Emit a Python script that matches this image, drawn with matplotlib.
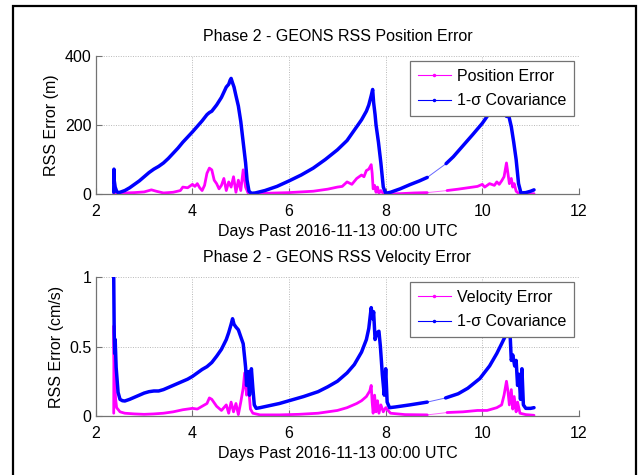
import numpy as np
import matplotlib
matplotlib.use('Agg')
import matplotlib.pyplot as plt
from matplotlib.lines import Line2D
from matplotlib.patches import Rectangle

plt.rcParams['font.family'] = ['Liberation Sans', 'DejaVu Sans']

# span with no tracking data (only a thin joining line is drawn across it)
data_gap = (8.9, 9.2)

# position error, top panel (days, metres)
pos_err_days = [2.37, 2.45, 2.6, 2.8, 3.0, 3.15, 3.25, 3.4, 3.6, 3.75, 3.8, 3.9, 4.0, 4.05, 4.1,
                4.15, 4.2, 4.25, 4.3, 4.35, 4.4, 4.45, 4.5, 4.55, 4.6, 4.65, 4.7, 4.75, 4.8, 4.85,
                4.9, 4.95, 5.0, 5.05, 5.1, 5.15, 5.25, 5.5, 6.0, 6.5, 6.8, 7.0, 7.1, 7.2, 7.3,
                7.4, 7.5, 7.55, 7.6, 7.65, 7.7, 7.72, 7.74, 7.77, 7.8, 7.83, 7.86, 7.9, 7.95, 8.05,
                8.3, 8.6, 8.86, 9.27, 9.5, 9.7, 9.9, 10.0, 10.05, 10.15, 10.25, 10.3, 10.35, 10.4,
                10.45, 10.5, 10.53, 10.56, 10.6, 10.63, 10.66, 10.7, 10.75, 10.8, 11.0, 11.07]
pos_err = [2, 1, 3, 4, 6, 12, 8, 3, 5, 10, 20, 18, 28, 22, 30,
           18, 10, 25, 60, 75, 70, 40, 30, 15, 25, 45, 10, 35, 20, 50,
           5, 40, 10, 70, 20, 3, 1, 2, 4, 8, 14, 20, 22, 35, 28,
           45, 55, 50, 68, 72, 85, 60, 15, 25, 5, 20, 2, 10, 1, 0,
           1, 3, 4, 10, 14, 18, 22, 28, 20, 30, 25, 35, 28, 38,
           50, 90, 60, 30, 45, 20, 30, 8, 2, 0, 0, 1]

# position 1-sigma covariance
pos_cov_days = [2.37, 2.375, 2.38, 2.40, 2.43, 2.46, 2.50, 2.6, 2.7, 2.8, 2.9, 3.0, 3.1, 3.2,
                3.3, 3.4, 3.5, 3.6, 3.7, 3.8, 3.9, 4.0, 4.1, 4.2, 4.3, 4.35, 4.4, 4.5, 4.6,
                4.65, 4.7, 4.75, 4.78, 4.8, 4.83, 4.86, 4.9, 4.95, 5.0, 5.05, 5.1, 5.13, 5.17,
                5.22, 5.3, 5.5, 5.75, 6.0, 6.25, 6.5, 6.75, 7.0, 7.2, 7.4, 7.5, 7.6, 7.65, 7.7,
                7.73, 7.75, 7.78, 7.8, 7.85, 7.9, 7.95, 8.0, 8.1, 8.3, 8.5, 8.7, 8.86, 9.25,
                9.4, 9.6, 9.8, 10.0, 10.1, 10.2, 10.3, 10.35, 10.4, 10.45, 10.5, 10.55, 10.6,
                10.65, 10.7, 10.75, 10.8, 10.9, 11.0, 11.07]
pos_cov = [5, 72, 40, 20, 8, 4, 5, 10, 18, 28, 38, 50, 62, 72,
           80, 90, 103, 118, 133, 150, 165, 180, 196, 212, 230, 236, 240, 258, 280,
           295, 310, 318, 330, 335, 322, 310, 285, 255, 210, 150, 90, 40, 8,
           2, 3, 10, 22, 38, 55, 75, 100, 128, 155, 195, 215, 240, 258, 285,
           303, 265, 230, 200, 150, 90, 20, 2, 5, 15, 27, 38, 48, 88,
           108, 140, 172, 205, 225, 245, 265, 275, 265, 240, 225, 225, 195,
           150, 100, 30, 3, 4, 8, 12]

# velocity error, bottom panel (days, cm/s)
vel_err_days = [2.37, 2.375, 2.38, 2.39, 2.41, 2.43, 2.5, 2.6, 2.8, 3.0, 3.2, 3.4, 3.6, 3.8,
                4.0, 4.1, 4.2, 4.3, 4.35, 4.4, 4.5, 4.6, 4.7, 4.75, 4.8, 4.85, 4.9, 4.95, 5.0,
                5.05, 5.08, 5.12, 5.15, 5.2, 5.25, 5.4, 5.8, 6.2, 6.6, 7.0, 7.2, 7.4, 7.5, 7.6,
                7.67, 7.7, 7.72, 7.74, 7.77, 7.8, 7.83, 7.86, 7.9, 7.95, 8.0, 8.1, 8.4, 8.86,
                9.27, 9.6, 9.9, 10.1, 10.3, 10.4, 10.45, 10.5, 10.53, 10.56, 10.6, 10.63, 10.66,
                10.7, 10.73, 10.78, 10.9, 11.07]
vel_err = [0.02, 0.65, 0.45, 0.25, 0.12, 0.06, 0.03, 0.02, 0.015, 0.012, 0.015, 0.02, 0.03, 0.045,
           0.055, 0.05, 0.07, 0.09, 0.13, 0.12, 0.07, 0.04, 0.08, 0.02, 0.1, 0.03, 0.09, 0.01, 0.1,
           0.2, 0.31, 0.15, 0.25, 0.05, 0.02, 0.008, 0.008, 0.012, 0.02, 0.04, 0.06, 0.09, 0.11, 0.14,
           0.18, 0.22, 0.1, 0.02, 0.15, 0.03, 0.11, 0.02, 0.08, 0.03, 0.06, 0.02, 0.01, 0.008,
           0.025, 0.03, 0.04, 0.04, 0.06, 0.08, 0.15, 0.25, 0.18, 0.08, 0.19, 0.05, 0.14,
           0.03, 0.1, 0.02, 0.01, 0.005]

# velocity 1-sigma covariance
vel_cov_days = [2.37, 2.375, 2.38, 2.39, 2.40, 2.42, 2.46, 2.50, 2.55, 2.6, 2.7, 2.8, 2.9, 3.0,
                3.1, 3.2, 3.3, 3.4, 3.5, 3.6, 3.7, 3.8, 3.9, 4.0, 4.1, 4.2, 4.3, 4.4, 4.5, 4.6,
                4.7, 4.75, 4.8, 4.83, 4.86, 4.9, 4.95, 5.0, 5.05, 5.08, 5.1, 5.12, 5.15, 5.18,
                5.22, 5.25, 5.28, 5.32, 5.4, 5.6, 5.8, 6.0, 6.3, 6.6, 6.8, 7.0, 7.2, 7.35, 7.5,
                7.6, 7.65, 7.7, 7.73, 7.75, 7.78, 7.82, 7.86, 7.89, 7.93, 7.97, 8.0, 8.03, 8.08,
                8.2, 8.5, 8.86, 9.24, 9.5, 9.7, 9.95, 10.15, 10.3, 10.4, 10.47, 10.52, 10.55,
                10.58, 10.6, 10.63, 10.67, 10.7, 10.73, 10.76, 10.79, 10.82, 10.85, 10.9, 11.0, 11.07]
vel_cov = [1.0, 0.8, 0.6, 0.45, 0.55, 0.35, 0.17, 0.12, 0.11, 0.108, 0.12, 0.135, 0.15, 0.165,
           0.175, 0.18, 0.18, 0.19, 0.205, 0.22, 0.235, 0.25, 0.265, 0.285, 0.31, 0.335, 0.355, 0.385, 0.43, 0.48,
           0.55, 0.6, 0.66, 0.7, 0.66, 0.64, 0.62, 0.57, 0.52, 0.42, 0.35, 0.22, 0.32, 0.15,
           0.34, 0.2, 0.08, 0.055, 0.06, 0.075, 0.09, 0.11, 0.14, 0.175, 0.21, 0.25, 0.31, 0.37, 0.46,
           0.55, 0.63, 0.78, 0.7, 0.75, 0.55, 0.6, 0.61, 0.5, 0.3, 0.15, 0.34, 0.1, 0.06,
           0.065, 0.08, 0.1, 0.13, 0.16, 0.2, 0.27, 0.36, 0.45, 0.52, 0.57, 0.63, 0.7,
           0.55, 0.4, 0.44, 0.36, 0.4, 0.22, 0.3, 0.12, 0.34, 0.08, 0.055, 0.055, 0.06]

PINK = '#ff00ff'
BLUE = '#0000ff'


def draw_series(ax, days, vals, color, lw):
    days = np.asarray(days, float)
    vals = np.asarray(vals, float)
    # thin line everywhere (shows through the data gap), thick where data is dense
    ax.plot(days, vals, color=color, lw=0.7, alpha=0.6)
    across = np.where((days[:-1] <= data_gap[0]) & (days[1:] >= data_gap[1]))[0]
    thick_x = np.insert(days, across + 1, np.nan)
    thick_y = np.insert(vals, across + 1, np.nan)
    ax.plot(thick_x, thick_y, color=color, lw=lw, solid_joinstyle='round',
            solid_capstyle='round')


def style_axes(ax, title, ylabel, ylim, yticks):
    ax.set_xlim(2, 12)
    ax.set_ylim(*ylim)
    ax.set_xticks([2, 4, 6, 8, 10, 12])
    ax.set_yticks(yticks)
    ax.set_title(title, fontsize=11.5, pad=11)
    ax.set_xlabel('Days Past 2016-11-13 00:00 UTC', fontsize=11.5, labelpad=4)
    ax.set_ylabel(ylabel, fontsize=11.5, labelpad=4)
    ax.grid(True, color='0.72', linestyle=(0, (1, 1.5)), linewidth=0.7)
    for side in ['top', 'right']:
        ax.spines[side].set_visible(False)
    for side in ['left', 'bottom']:
        ax.spines[side].set_color('0.45')
        ax.spines[side].set_linewidth(0.9)
    ax.tick_params(direction='in', length=4, color='0.45', labelsize=11.5)
    ax.tick_params(axis='x', pad=7)
    ax.tick_params(axis='y', pad=3)


def add_legend(ax, labels):
    handles = [Line2D([], [], color=PINK, lw=0.8, marker='.', markersize=3),
               Line2D([], [], color=BLUE, lw=0.8, marker='.', markersize=3)]
    leg = ax.legend(handles, labels, loc='upper right', fontsize=11.5, fancybox=False,
                    framealpha=1, edgecolor='0.45', handlelength=2.1, handletextpad=0.35,
                    borderaxespad=0.3, borderpad=0.5, labelspacing=0.6)
    leg.get_frame().set_linewidth(0.9)


fig = plt.figure(figsize=(6.39, 4.75), dpi=100)
ax1 = fig.add_axes([0.150, 0.5916, 0.756, 0.2905])
ax2 = fig.add_axes([0.150, 0.1242, 0.756, 0.2926])

draw_series(ax1, pos_err_days, pos_err, PINK, 2.0)
draw_series(ax1, pos_cov_days, pos_cov, BLUE, 2.5)
style_axes(ax1, 'Phase 2 - GEONS RSS Position Error', 'RSS Error (m)', (0, 400), [0, 200, 400])
add_legend(ax1, ['Position Error', '1-\u03c3 Covariance'])

draw_series(ax2, vel_err_days, vel_err, PINK, 2.0)
draw_series(ax2, vel_cov_days, vel_cov, BLUE, 2.5)
style_axes(ax2, 'Phase 2 - GEONS RSS Velocity Error', 'RSS Error (cm/s)', (0, 1), [0, 0.5, 1])
ax2.set_yticklabels(['0', '0.5', '1'])
add_legend(ax2, ['Velocity Error', '1-\u03c3 Covariance'])

# black frame around the figure
fig.add_artist(Rectangle((12.5 / 639, -0.02), 623 / 639, 0.02 + 1 - 6.5 / 475,
                         transform=fig.transFigure, fill=False, edgecolor='black',
                         lw=1.6, clip_on=False))

fig.savefig('out.png', dpi=100)
